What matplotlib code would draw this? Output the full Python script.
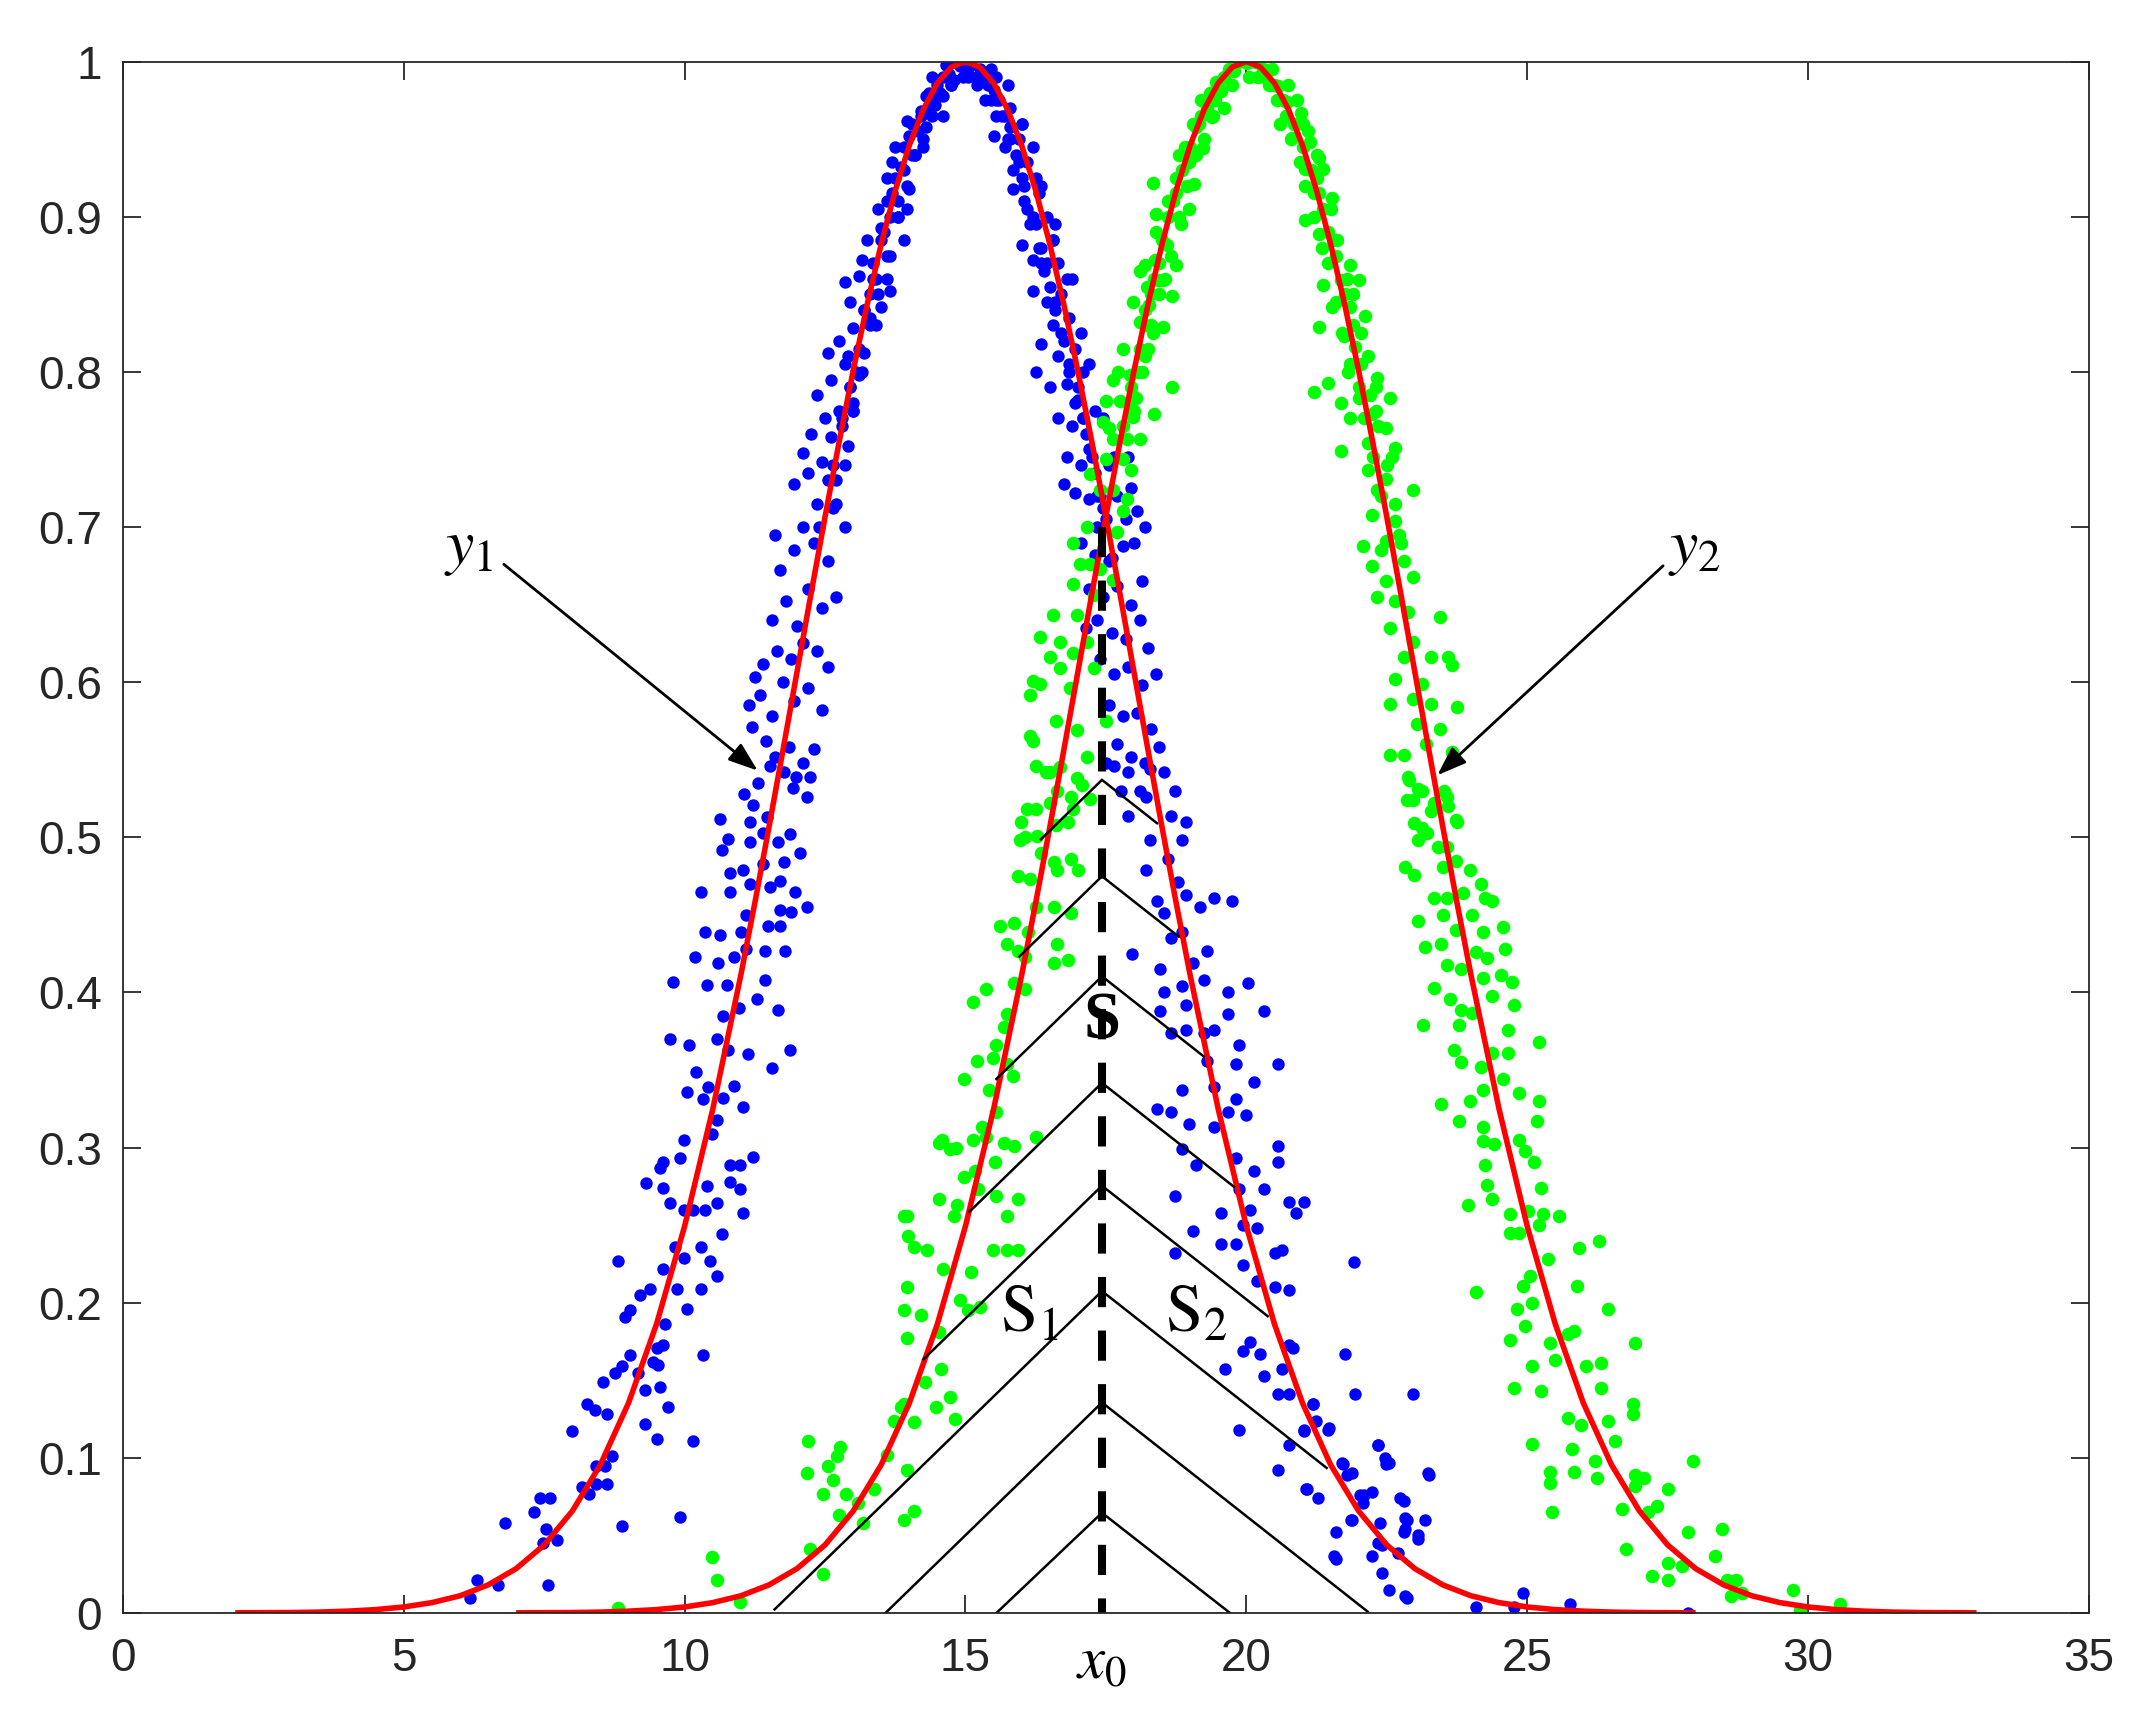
import matplotlib
matplotlib.use("Agg")
import matplotlib.pyplot as plt

# ---------------- data ----------------
mu1, mu2 = 15.0, 20.0          # centres of the two fitted curves y1, y2
fit_half = [13, 12.5, 12, 11.5, 11, 10.5, 10, 9.5, 9, 8.5, 8, 7.5, 7, 6.5, 6,
            5.5, 5, 4.5, 4, 3.75, 3.5, 3.25, 3, 2.75, 2.5, 2.25, 2, 1.75, 1.5,
            1.25, 1, 0.75, 0.5, 0.25]
fit_half_y = [0.0001, 0.0002, 0.0003, 0.0006, 0.0012, 0.0022, 0.0039, 0.0067,
              0.0111, 0.0181, 0.0286, 0.0439, 0.0657, 0.0956, 0.1353, 0.1863,
              0.2494, 0.3247, 0.4111, 0.4578, 0.5063, 0.5561, 0.6065, 0.6570,
              0.7066, 0.7548, 0.8007, 0.8436, 0.8825, 0.9169, 0.9460, 0.9692,
              0.9862, 0.9965]
fit_d = [-v for v in fit_half] + [0.0] + fit_half[::-1]
fit_y = fit_half_y + [1.0] + fit_half_y[::-1]

blue_points = [
 (11.52,0.546),(11.76,0.542),(11.99,0.539),(12.23,0.539),(11.93,0.532),(12.17,0.526),(11.22,0.521),
 (11.46,0.513),(10.63,0.512),(11.16,0.510),(11.40,0.503),(10.78,0.499),(11.16,0.497),(11.67,0.497),
 (11.88,0.502),(10.66,0.492),(11.76,0.484),(12.05,0.490),(10.81,0.477),(11.04,0.479),(11.40,0.483),
 (11.70,0.472),(10.30,0.465),(10.81,0.465),(11.16,0.470),(11.52,0.468),(11.96,0.465),(12.17,0.455),
 (11.10,0.450),(11.70,0.453),(11.90,0.452),(10.36,0.439),(10.63,0.437),(11.01,0.439),(11.49,0.443),
 (11.70,0.443),(10.18,0.423),(10.60,0.419),(10.87,0.423),(11.10,0.428),(11.43,0.427),(11.79,0.427),
 (9.80,0.407),(10.39,0.405),(10.75,0.405),(11.43,0.408),(10.96,0.390),(11.28,0.396),(11.67,0.389),
 (10.69,0.385),(9.74,0.370),(10.07,0.366),(10.57,0.370),(10.78,0.363),(11.13,0.360),(11.88,0.363),
 (11.55,0.351),(10.21,0.349),(10.42,0.339),(10.04,0.336),(10.33,0.331),(10.69,0.332),(10.87,0.340),
 (11.04,0.326),(10.57,0.318),(10.48,0.309),(9.98,0.305),(9.62,0.291),(9.56,0.287),(9.92,0.293),
 (10.81,0.289),(10.99,0.289),(11.22,0.294),(9.32,0.277),(9.62,0.274),(9.74,0.264),(9.98,0.260),
 (10.15,0.260),(10.36,0.260),(10.39,0.275),(10.57,0.264),(11.04,0.258),(10.81,0.278),(10.99,0.273),
 (10.66,0.244),(10.30,0.236),(9.83,0.236),(9.98,0.229),(10.45,0.227),(10.57,0.217),(8.82,0.227),
 (9.62,0.222),(9.86,0.209),(10.30,0.209),(10.04,0.196),(9.38,0.209),(9.20,0.205),(9.03,0.195),
 (8.94,0.191),(9.65,0.186),(9.62,0.173),(9.50,0.171),(10.33,0.166),(9.44,0.162),(9.53,0.160),
 (9.03,0.166),(8.88,0.159),(8.76,0.155),(8.55,0.149),(9.17,0.155),(9.56,0.146),(9.29,0.144),
 (9.71,0.133),(8.26,0.135),(8.40,0.131),(8.61,0.128),(9.29,0.122),(9.50,0.112),(10.15,0.111),
 (7.99,0.117),(8.43,0.095),(8.58,0.095),(8.70,0.101),(8.17,0.081),(8.29,0.077),(8.43,0.083),
 (8.61,0.083),(7.42,0.074),(7.60,0.074),(7.31,0.065),(7.54,0.054),(7.72,0.047),(7.48,0.045),
 (6.80,0.058),(8.88,0.056),(9.92,0.062),(6.30,0.021),(6.68,0.018),(6.18,0.010),(7.57,0.018),
 (11.05,0.528),(11.3,0.535),(11.6,0.552),(11.85,0.558),(12.1,0.548),(12.3,0.557),(11.45,0.562),
 (11.2,0.571),(11.15,0.585),(11.35,0.592),(11.55,0.578),(11.75,0.600),(11.95,0.588),(12.2,0.596),
 (12.45,0.582),(11.4,0.612),(11.65,0.620),(11.9,0.615),(12.1,0.625),(12.55,0.610),(11.25,0.603),
 (12.35,0.620),(11.55,0.640),(11.8,0.652),(12.0,0.636),(12.2,0.660),(12.45,0.648),(12.7,0.655),
 (11.7,0.672),(11.95,0.685),(12.3,0.690),(12.55,0.678),(12.85,0.700),(12.1,0.700),(11.6,0.695),
 (12.65,0.712),(11.95,0.728),(12.2,0.735),(12.45,0.742),(12.7,0.730),(12.9,0.752),(12.25,0.760),
 (12.5,0.770),(12.75,0.775),(12.1,0.748),(12.6,0.758),(12.35,0.715),(13.0,0.780),(12.35,0.785),
 (12.6,0.795),(12.85,0.805),(13.1,0.798),(12.75,0.820),(13.0,0.828),(13.3,0.835),(12.95,0.845),
 (13.2,0.812),(13.5,0.842),(12.55,0.812),(13.65,0.852),(12.85,0.858),(13.1,0.862),(13.35,0.870),
 (13.6,0.875),(13.25,0.885),(13.5,0.893),(13.8,0.900),(13.45,0.905),(13.7,0.915),(14.0,0.918),
 (13.15,0.872),(13.9,0.885),(13.6,0.925),(13.85,0.932),(14.1,0.940),(13.75,0.945),(14.0,0.952),
 (14.3,0.958),(13.95,0.962),(14.2,0.968),(14.45,0.972),(13.7,0.935),(14.3,0.978),(14.5,0.985),
 (14.7,0.992),(14.9,0.997),(14.6,0.978),(14.8,0.988),(14.4,0.990),(15.0,1.002),(14.95,0.990),
 (14.65,0.998),(12.4,0.700),(12.55,0.730),(12.65,0.740),(12.8,0.770),(12.95,0.790),(13.05,0.800),
 (13.2,0.840),(13.3,0.850),(13.4,0.860),(13.55,0.890),(13.65,0.900),(13.8,0.910),(13.9,0.930),
 (14.05,0.940),(14.15,0.955),(14.35,0.970),(14.55,0.980),(14.75,0.985),(14.85,1.000),(12.9,0.810),
 (13.0,0.775),(12.7,0.715),(12.85,0.740),(13.4,0.830),(13.6,0.860),(13.95,0.905),(14.25,0.945),
 (14.6,0.965),
 (12.8,0.765),(12.95,0.790),(13.1,0.815),(13.2,0.840),(13.35,0.860),(13.5,0.885),(13.6,0.910),
 (13.75,0.925),(13.9,0.945),(14.05,0.960),(14.2,0.965),(14.35,0.980),(14.45,0.975),(14.6,0.990),
 (14.75,0.985),(14.9,1.005),(15.05,0.990),(13.0,0.775),(13.15,0.800),(13.3,0.830),(13.45,0.850),
 (13.65,0.875),(13.8,0.900),(13.95,0.920),(14.1,0.940),(14.25,0.950),(14.4,0.965),
 (15.2,0.990),(15.4,0.985),(15.55,0.975),(15.7,0.965),(15.8,0.950),(15.95,0.935),(16.05,0.920),
 (16.2,0.900),(16.35,0.880),(16.45,0.870),(16.6,0.845),(16.7,0.825),(16.85,0.805),(17.0,0.790),
 (17.1,0.770),(17.25,0.745),(17.4,0.720),(15.25,1.005),(15.45,0.995),(15.75,0.985),(16.0,0.960),
 (16.25,0.925),(16.55,0.885),(16.8,0.860),(17.05,0.825),(17.3,0.775),
 (15.1,0.998),(15.25,0.995),(15.4,0.990),(15.2,0.985),(15.5,0.982),(15.35,0.975),(15.6,0.975),
 (15.05,0.992),(15.55,0.965),(15.8,0.958),(15.7,0.945),(15.95,0.950),(16.1,0.935),(15.85,0.930),
 (16.2,0.945),(15.5,0.952),(15.85,0.918),(16.05,0.910),(16.3,0.915),(16.15,0.895),(16.45,0.900),
 (16.3,0.880),(16.55,0.885),(16.0,0.882),(16.65,0.870),(16.4,0.865),(16.2,0.872),(16.2,0.852),
 (16.45,0.845),(16.7,0.850),(16.55,0.830),(16.85,0.835),(16.35,0.818),(16.65,0.810),(16.95,0.815),
 (17.1,0.800),(16.8,0.792),(16.5,0.790),(17.0,0.782),(16.25,0.800),(16.65,0.770),(16.9,0.765),
 (17.15,0.760),(16.8,0.745),(17.05,0.740),(17.3,0.735),(17.55,0.740),(16.95,0.722),(17.2,0.718),
 (17.45,0.712),(17.7,0.720),(17.35,0.700),(16.75,0.728),(17.85,0.705),(17.05,0.690),(17.3,0.682),
 (17.55,0.678),(17.8,0.688),(18.0,0.690),(17.2,0.660),(17.45,0.655),(17.7,0.662),(17.95,0.650),
 (18.15,0.665),(17.35,0.640),(17.6,0.632),(17.85,0.628),(18.1,0.640),(17.15,0.635),(18.25,0.622),
 (17.4,0.615),(17.65,0.605),(17.9,0.610),(18.15,0.598),(18.4,0.605),(17.55,0.585),(17.8,0.578),
 (18.05,0.580),(18.3,0.570),(17.7,0.560),(17.95,0.552),(18.2,0.548),(18.45,0.558),(17.5,0.548),
 (18.1,0.530),(15.3,0.990),(15.45,0.975),(15.65,0.965),(15.75,0.950),(15.9,0.940),(16.0,0.925),
 (16.1,0.905),(16.25,0.895),(16.35,0.870),(16.5,0.855),(16.6,0.840),(16.75,0.820),(16.85,0.800),
 (16.95,0.780),(17.1,0.770),(17.2,0.750),(17.35,0.720),(17.5,0.705),(17.6,0.680),(15.55,0.990),
 (15.8,0.970),(16.0,0.960),(16.35,0.920),(16.6,0.895),(16.9,0.860),(17.2,0.805),(17.45,0.770),
 (17.65,0.745),(18.05,0.710),(17.95,0.725),(18.2,0.700),(17.9,0.745),
 (17.65,0.546),(17.9,0.542),(18.28,0.544),(18.54,0.542),(18.73,0.530),(17.77,0.530),(18.22,0.526),
 (18.66,0.514),(18.92,0.510),(17.9,0.514),(18.28,0.498),(18.86,0.498),(18.6,0.486),(18.22,0.479),
 (18.79,0.471),(18.92,0.463),(18.41,0.459),(17.96,0.425),(18.54,0.451),(18.86,0.439),(19.17,0.455),
 (19.43,0.461),(19.75,0.459),(18.66,0.435),(19.05,0.419),(19.3,0.427),(18.47,0.415),(19.24,0.408),
 (18.86,0.404),(18.54,0.400),(18.92,0.392),(19.68,0.400),(20.03,0.406),(20.32,0.388),(18.47,0.388),
 (18.66,0.374),(18.92,0.376),(19.24,0.374),(19.43,0.376),(19.87,0.366),(19.68,0.386),(20.57,0.354),
 (19.3,0.356),(19.81,0.354),(20.13,0.342),(18.86,0.337),(19.43,0.339),(18.41,0.325),(18.66,0.323),
 (19.81,0.331),(19.68,0.323),(20.0,0.321),(18.98,0.315),(19.43,0.313),(20.57,0.301),(20.57,0.291),
 (18.86,0.299),(19.11,0.289),(19.81,0.293),(20.13,0.285),(20.32,0.273),(18.73,0.269),(19.87,0.273),
 (20.76,0.265),(21.02,0.265),(20.89,0.258),(19.55,0.258),(19.94,0.250),(20.06,0.260),(20.19,0.248),
 (19.05,0.246),(18.73,0.232),(19.55,0.238),(19.81,0.238),(20.51,0.232),(20.64,0.234),(19.94,0.224),
 (20.19,0.214),(20.51,0.210),(20.76,0.208),(21.91,0.226),(20.06,0.175),(20.25,0.167),(19.94,0.169),
 (20.76,0.173),(19.62,0.157),(20.32,0.153),(20.64,0.157),(20.83,0.171),(21.75,0.167),(20.76,0.141),
 (20.57,0.141),(21.18,0.135),(21.94,0.141),(22.96,0.141),(19.87,0.118),(20.76,0.108),(21.02,0.118),
 (21.24,0.124),(21.46,0.118),(20.57,0.092),(21.08,0.080),(21.27,0.074),(21.72,0.096),(21.88,0.090),
 (22.1,0.076),(22.23,0.078),(22.35,0.108),(22.48,0.096),(23.24,0.090),(21.59,0.052),(21.88,0.060),
 (21.56,0.037),(22.42,0.044),(22.8,0.072),(22.86,0.060),(23.05,0.050),(22.8,0.052),(22.54,0.015),
 (22.83,0.011),(22.23,0.037),(21.19,0.135),(21.47,0.119),(21.03,0.117),(22.34,0.108),(22.46,0.100),
 (22.54,0.097),(21.71,0.097),(23.26,0.089),(21.79,0.089),(22.03,0.076),(22.07,0.071),(22.74,0.074),
 (21.07,0.080),(22.82,0.061),(22.82,0.054),(23.18,0.060),(23.06,0.048),(21.87,0.060),(22.38,0.058),
 (22.34,0.045),(22.7,0.039),(21.59,0.035),(22.42,0.026),(22.86,0.010),(24.09,0.004),(24.93,0.013),
 (24.77,0.004),(25.76,0.006),(27.87,0.000),
]

green_points = [
 (12.20,0.111),(12.17,0.090),(12.56,0.095),(12.71,0.101),(12.65,0.086),(12.47,0.077),(12.88,0.077),
 (12.74,0.063),(12.23,0.041),(12.47,0.025),(10.48,0.036),(10.57,0.021),(10.99,0.007),(8.82,0.003),
 (12.76,0.107),(13.17,0.058),(13.6,0.102),(13.85,0.133),(13.37,0.080),(13.08,0.071),(13.73,0.124),
 (13.9,0.256),(13.98,0.243),(14.58,0.305),(14.83,0.300),
 (14.09,0.066),(13.9,0.060),(13.96,0.092),(14.09,0.123),(13.9,0.135),(14.28,0.149),(14.47,0.133),
 (14.72,0.139),(14.82,0.125),(14.56,0.157),(13.96,0.177),(13.9,0.195),(14.21,0.192),(14.53,0.181),
 (14.91,0.202),(15.04,0.195),(15.26,0.197),(14.6,0.222),(13.96,0.210),(14.09,0.236),(14.31,0.234),
 (15.1,0.220),(15.49,0.234),(15.74,0.234),(15.93,0.234),(13.96,0.256),(14.53,0.267),(14.85,0.263),
 (14.79,0.256),(15.23,0.273),(15.55,0.269),(15.74,0.256),(15.93,0.267),(15.17,0.285),(14.98,0.281),
 (14.53,0.303),(14.72,0.299),(15.14,0.305),(15.36,0.307),(15.68,0.303),(15.87,0.301),(16.25,0.307),
 (15.52,0.291),(15.3,0.313),(15.55,0.323),(15.42,0.337),(14.98,0.344),(15.2,0.356),(15.49,0.358),
 (15.74,0.354),(15.84,0.346),(15.55,0.366),(15.68,0.378),(15.74,0.386),(15.36,0.402),(15.14,0.394),
 (15.87,0.406),(16.06,0.402),(15.61,0.443),(15.87,0.445),(16.12,0.439),(15.74,0.431),(15.93,0.427),
 (16.06,0.423),(16.63,0.431),(16.82,0.421),(16.57,0.419),(16.25,0.455),(16.57,0.455),(16.88,0.451),
 (15.93,0.475),(16.15,0.473),(16.63,0.479),(16.88,0.486),(16.06,0.500),(16.34,0.490),(16.57,0.484),
 (15.99,0.510),(16.25,0.518),(16.5,0.522),(16.82,0.510),(17.01,0.479),(16.88,0.526),(17.08,0.534),
 (16.5,0.542),(16.25,0.546),(16.63,0.530),
 (15.97,0.498),(16.09,0.518),(16.21,0.562),(16.15,0.592),(16.21,0.601),(16.33,0.629),(16.56,0.643),
 (16.5,0.616),(16.68,0.609),(16.86,0.596),(16.92,0.619),(16.68,0.626),(16.98,0.643),(17.16,0.626),
 (17.28,0.656),(16.92,0.663),(17.04,0.676),(16.92,0.690),(17.16,0.700),(17.22,0.676),(17.4,0.673),
 (17.63,0.666),(17.69,0.697),(17.81,0.710),(17.4,0.724),(17.22,0.734),(17.51,0.744),(17.81,0.744),
 (17.45,0.768),(17.63,0.757),(17.51,0.781),(17.75,0.781),(17.99,0.771),(17.63,0.795),(17.93,0.798),
 (18.17,0.811),(17.81,0.815),(18.11,0.832),(18.34,0.825),(17.99,0.845),(18.23,0.855),(18.38,0.872),
 (18.11,0.865),(18.4,0.902),(18.34,0.922),(17.28,0.609),(17.51,0.575),(16.98,0.569),(16.62,0.575),
 (16.33,0.599),(16.15,0.565),(16.44,0.542),(16.68,0.545),(16.98,0.538),(17.16,0.552),(17.22,0.525),
 (16.92,0.518),(16.62,0.508),(16.27,0.501),
 (17.55,0.764),(17.87,0.757),(18.03,0.783),(17.71,0.800),(18.19,0.810),(18.51,0.829),(18.27,0.843),
 (18.67,0.849),(18.43,0.859),(18.75,0.869),(18.59,0.882),(18.83,0.895),(18.98,0.905),(18.75,0.915),
 (19.06,0.921),(18.98,0.935),(19.22,0.944),(19.1,0.958),(19.38,0.964),(19.3,0.974),(19.54,0.981),
 (19.46,0.987),(19.78,0.994),(20.02,0.999),(18.67,0.790),(18.35,0.773),(18.11,0.757),(17.95,0.737),
 (17.87,0.718),(17.63,0.724),(18.51,0.859),(18.19,0.869),
 (17.8,0.765),(17.95,0.790),(18.1,0.815),(18.2,0.840),(18.35,0.860),(18.5,0.885),(18.6,0.910),
 (18.75,0.925),(18.9,0.945),(19.05,0.960),(19.2,0.965),(19.35,0.980),(19.45,0.975),(19.6,0.990),
 (19.75,0.985),(19.9,1.005),(20.05,0.990),(18.0,0.775),(18.15,0.800),(18.3,0.830),(18.45,0.850),
 (18.65,0.875),(18.8,0.900),(18.95,0.920),(19.1,0.940),(19.25,0.950),(19.4,0.965),
 (20.2,0.990),(20.4,0.985),(20.55,0.975),(20.7,0.965),(20.8,0.950),(20.95,0.935),(21.05,0.920),
 (21.2,0.900),(21.35,0.880),(21.45,0.870),(21.6,0.845),(21.7,0.825),(21.85,0.805),(22.0,0.790),
 (22.1,0.770),(22.25,0.745),(22.4,0.720),(20.25,1.005),(20.45,0.995),(20.75,0.985),(21.0,0.960),
 (21.25,0.925),(21.55,0.885),(21.8,0.860),(22.05,0.825),(22.3,0.775),
 (20.34,0.990),(20.57,0.984),(20.73,0.974),(20.97,0.967),(20.81,0.951),(21.13,0.948),(21.29,0.938),
 (21.37,0.931),(21.05,0.931),(21.21,0.915),(21.05,0.898),(21.37,0.905),(21.53,0.912),(21.29,0.889),
 (21.61,0.885),(21.85,0.869),(21.69,0.859),(22.01,0.859),(21.37,0.856),(21.53,0.842),(21.85,0.842),
 (22.12,0.836),(21.29,0.829),(21.73,0.823),(21.93,0.816),(22.16,0.810),(21.81,0.800),(22.32,0.796),
 (21.21,0.787),(21.45,0.793),(22.0,0.783),(22.56,0.783),(21.69,0.780),(21.85,0.770),(22.24,0.773),
 (22.48,0.764),(22.16,0.754),(21.69,0.749),(22.64,0.751),(22.16,0.737),(22.48,0.731),(22.96,0.724),
 (22.32,0.724),(22.24,0.708),(22.64,0.704),(22.48,0.691),(22.72,0.695),(22.08,0.688),(22.4,0.685),
 (22.8,0.678),(22.24,0.675),(22.96,0.668),(22.48,0.665),(22.32,0.655),(22.64,0.652),(22.88,0.645),
 (23.44,0.642),(22.56,0.635),(22.96,0.626),(22.8,0.616),(23.28,0.616),(23.59,0.616),(23.67,0.611),
 (22.64,0.602),(23.12,0.599),(22.96,0.589),(22.56,0.586),(23.28,0.586),(23.75,0.584),(23.04,0.573),
 (23.44,0.570),(22.56,0.553),(22.8,0.553),(23.2,0.560),(23.67,0.555),(22.88,0.539),(23.12,0.530),
 (23.52,0.530),(22.96,0.524),(23.28,0.517),(23.75,0.510),(23.59,0.520),(23.12,0.506),
 (17.9,0.780),(18.05,0.800),(18.2,0.830),(18.3,0.850),(18.45,0.870),(18.6,0.900),(18.7,0.910),
 (18.85,0.930),(19.0,0.945),(19.15,0.960),(19.3,0.970),(19.5,0.985),(19.7,0.995),(19.85,1.000),
 (18.4,0.890),(18.8,0.940),(19.2,0.975),(18.55,0.860),(18.25,0.815),(19.6,0.970),
 (20.15,1.000),(20.3,0.995),(20.5,0.985),(20.65,0.975),(20.85,0.960),(21.0,0.945),(21.15,0.930),
 (21.3,0.915),(21.45,0.890),(21.6,0.875),(21.75,0.850),(21.9,0.830),(22.05,0.805),(22.2,0.785),
 (22.35,0.765),(22.5,0.740),(22.65,0.715),(22.75,0.690),(20.6,0.960),(21.1,0.955),(21.5,0.905),
 (21.9,0.850),(22.3,0.790),(22.6,0.745),(20.9,0.975),(21.25,0.940),
 (22.9,0.537),(23.06,0.531),(22.86,0.524),(23.34,0.522),(23.58,0.526),(23.74,0.511),(22.98,0.509),
 (23.22,0.503),(23.06,0.498),(23.42,0.494),(23.58,0.494),(22.82,0.481),(22.98,0.476),(23.5,0.481),
 (23.74,0.485),(23.98,0.479),(24.17,0.470),(23.34,0.461),(23.58,0.461),(23.86,0.464),(24.25,0.461),
 (24.37,0.459),(24.02,0.450),(23.5,0.450),(23.06,0.446),(24.21,0.439),(24.57,0.442),(23.74,0.440),
 (23.18,0.429),(23.46,0.431),(24.09,0.426),(24.29,0.422),(24.61,0.428),(23.58,0.418),(23.82,0.415),
 (24.21,0.409),(24.53,0.411),(24.73,0.407),(23.34,0.403),(23.62,0.396),(24.37,0.398),(23.82,0.389),
 (24.02,0.387),(23.78,0.379),(24.77,0.392),(23.14,0.379),(24.65,0.376),(25.21,0.368),(23.7,0.363),
 (24.37,0.361),(24.65,0.361),(23.82,0.355),(24.17,0.352),(24.57,0.344),(23.98,0.330),(24.85,0.335),
 (25.21,0.330),(24.21,0.337),(23.46,0.328),(23.78,0.317),(24.21,0.313),(24.41,0.302),(24.85,0.305),
 (24.97,0.298),(25.17,0.317),(24.21,0.304),(25.13,0.291),(24.25,0.289),(24.29,0.276),(24.37,0.267),
 (25.25,0.274),(23.94,0.263),(24.69,0.257),(25.01,0.259),(25.29,0.257),(25.56,0.256),(24.69,0.245),
 (24.85,0.245),(25.21,0.250),(25.37,0.228),(25.92,0.235),(26.28,0.240),(24.09,0.207),(24.93,0.211),
 (25.05,0.217),(25.88,0.211),(26.44,0.196),(24.81,0.196),(25.09,0.200),(24.97,0.185),(25.72,0.180),
 (25.84,0.182),(24.69,0.176),(25.41,0.174),(26.92,0.174),(25.09,0.159),(25.49,0.163),(26.04,0.159),
 (26.32,0.161),(24.77,0.145),(25.25,0.143),(26.32,0.145),(26.88,0.135),(26.88,0.128),(25.72,0.126),
 (25.96,0.121),(26.44,0.124),(26.56,0.111),(25.09,0.109),(25.8,0.106),(26.2,0.098),(27.95,0.098),
 (25.41,0.091),(25.41,0.084),(25.84,0.091),(26.24,0.087),(26.92,0.089),(27.08,0.087),(26.92,0.082),
 (27.51,0.080),(27.31,0.069),(26.68,0.067),(27.15,0.065),(25.45,0.065),(27.87,0.052),(28.47,0.054),
 (26.76,0.041),(27.75,0.030),(27.51,0.032),(28.35,0.037),(27.23,0.024),(27.51,0.021),(28.55,0.021),
 (28.71,0.021),(28.63,0.011),(28.82,0.013),(29.74,0.015),(29.86,0.002),(30.57,0.006),
]

# overlap construction (x0, hatch "chevrons")
x0 = 17.43
x0_top = 0.70
chevron_apex = [0.0646, 0.1357, 0.2075, 0.2754, 0.3417, 0.4104, 0.4749, 0.537]
chevron_left_end = [15.55, 13.58, 11.60, 14.25, 15.07, 15.55, 15.96, 16.34]
chevron_right_end = [19.71, 22.16, 21.43, 20.38, 19.78, 19.24, 18.79, 18.41]
slope_left, slope_right = 0.0352, 0.0285

x_ticks = [0, 5, 10, 15, 20, 25, 30, 35]
y_ticks = [0, 0.1, 0.2, 0.3, 0.4, 0.5, 0.6, 0.7, 0.8, 0.9, 1.0]
y_tick_labels = ["0", "0.1", "0.2", "0.3", "0.4", "0.5", "0.6", "0.7", "0.8", "0.9", "1"]

# ---------------- plot ----------------
plt.rcParams["font.family"] = ["Liberation Sans", "DejaVu Sans"]
plt.rcParams["mathtext.fontset"] = "stix"

fig = plt.figure(figsize=(21.42, 17.2), dpi=100)
ax = fig.add_axes([0.0574, 0.0622, 0.9178, 0.9020])

bx = [p[0] for p in blue_points]
by = [p[1] for p in blue_points]
gx = [p[0] for p in green_points]
gy = [p[1] for p in green_points]
ax.scatter(bx, by, s=80, c="#0000ff", linewidths=0, zorder=2)
ax.scatter(gx, gy, s=95, c="#00ff00", linewidths=0, zorder=3)

ax.plot([mu1 + d for d in fit_d], fit_y, color="#ff0000", lw=4.0, zorder=4,
        solid_capstyle="butt")
ax.plot([mu2 + d for d in fit_d], fit_y, color="#ff0000", lw=4.0, zorder=4,
        solid_capstyle="butt")

for a, lx, rx in zip(chevron_apex, chevron_left_end, chevron_right_end):
    ly = max(a - slope_left * (x0 - lx), 0.0)
    ry = max(a - slope_right * (rx - x0), 0.0)
    ax.plot([lx, x0, rx], [ly, a, ry], color="black", lw=1.8, zorder=5,
            solid_joinstyle="miter")

ax.plot([x0, x0], [x0_top, 0.0], color="black", lw=5.8,
        linestyle=(0, (3.75, 2.9)), zorder=6)

# labels and arrows
arrow_kw = dict(arrowstyle="-|>,head_length=0.5,head_width=0.18", color="black",
                lw=2.0, mutation_scale=36, shrinkA=0, shrinkB=0)
ax.annotate("", xy=(11.30, 0.543), xytext=(6.78, 0.676), arrowprops=arrow_kw, zorder=7)
ax.annotate("", xy=(23.40, 0.540), xytext=(27.42, 0.675), arrowprops=arrow_kw, zorder=7)
ax.text(5.72, 0.677, r"$y_1$", fontsize=46, ha="left", va="baseline", zorder=8)
ax.text(27.50, 0.677, r"$y_2$", fontsize=46, ha="left", va="baseline", zorder=8)
ax.text(x0, 0.370, "S", fontsize=48, fontweight="bold", family="Liberation Serif",
        ha="center", va="baseline", zorder=8)
ax.text(15.62, 0.182, r"$\mathrm{S}_1$", fontsize=48, ha="left", va="baseline", zorder=8)
ax.text(18.55, 0.182, r"$\mathrm{S}_2$", fontsize=48, ha="left", va="baseline", zorder=8)
ax.annotate(r"$x_0$", xy=(x0, 0), xycoords=("data", "axes fraction"),
            xytext=(0, -47), textcoords="offset points", fontsize=44,
            ha="center", va="baseline", annotation_clip=False)

ax.set_xlim(0, 35)
ax.set_ylim(0, 1)
ax.set_xticks(x_ticks)
ax.set_xticklabels([str(t) for t in x_ticks])
ax.set_yticks(y_ticks)
ax.set_yticklabels(y_tick_labels)

axis_color = "#262626"
for sp in ax.spines.values():
    sp.set_color(axis_color)
    sp.set_linewidth(1.3)
    sp.set_zorder(10)
ax.tick_params(axis="both", direction="in", length=13, width=1.3, top=True,
               right=True, color=axis_color, labelcolor=axis_color, labelsize=33)
ax.tick_params(axis="x", pad=17)
ax.tick_params(axis="y", pad=15)

fig.savefig("out.png", dpi=100, facecolor="white")
